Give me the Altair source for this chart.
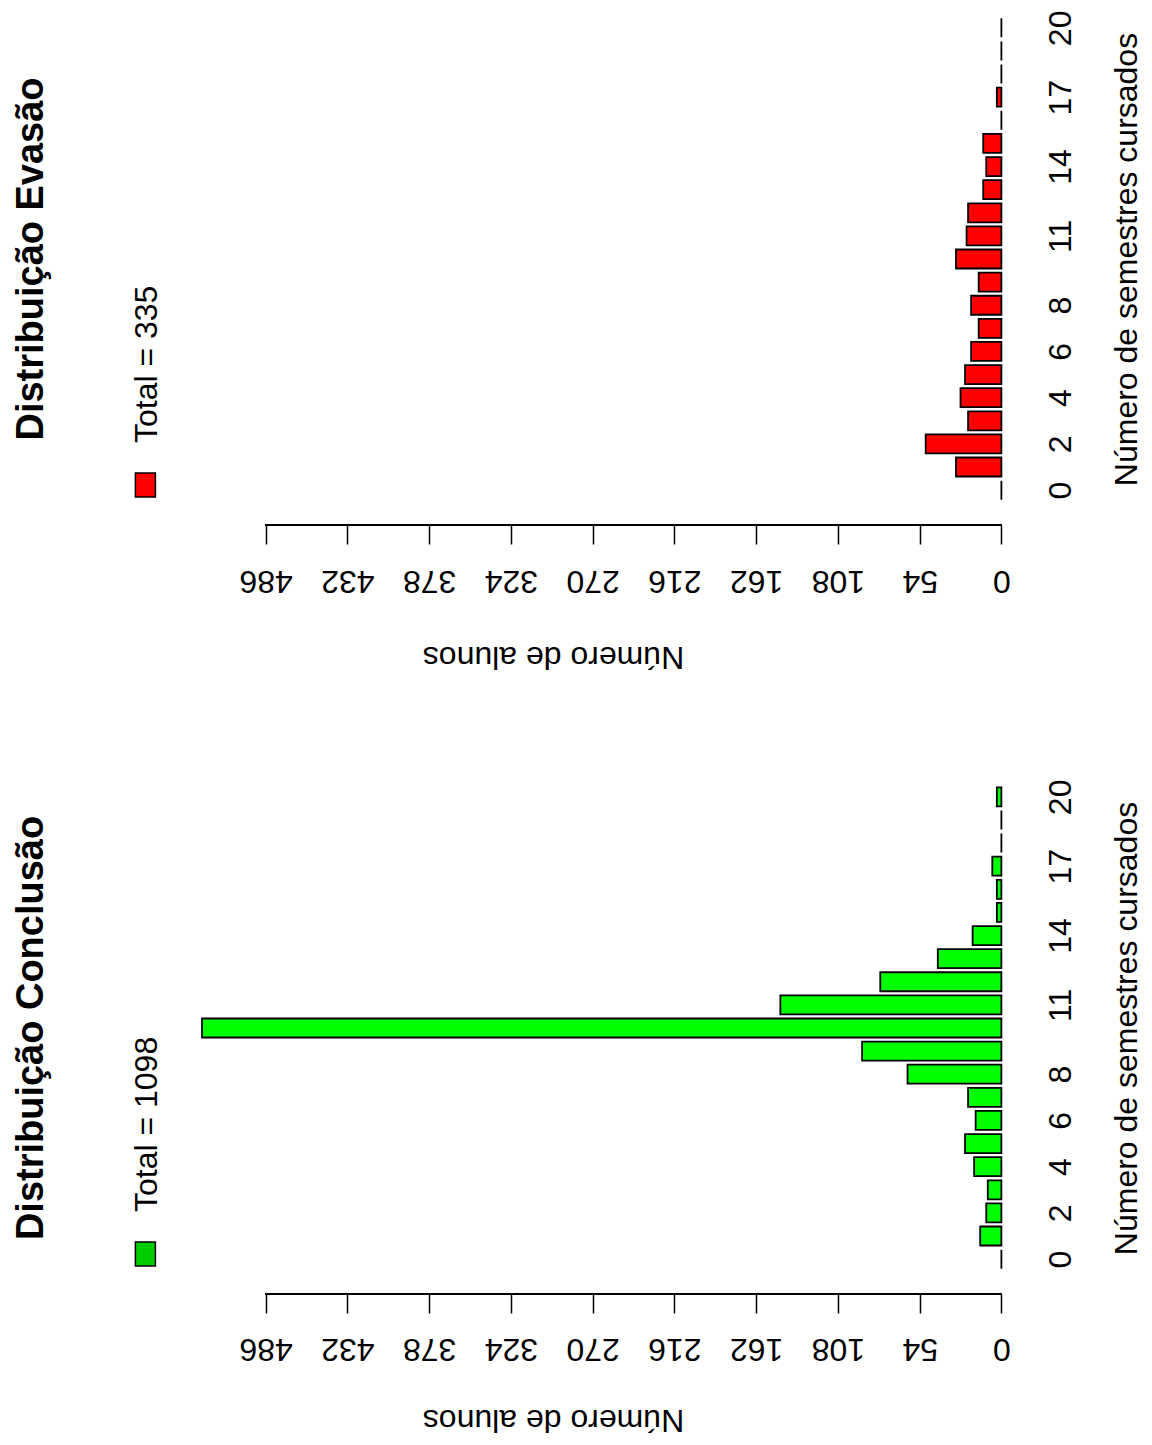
import altair as alt
import pandas as pd

# Data
semestres = list(range(21))
evasao = [0, 30, 50, 22, 27, 24, 20, 15, 20, 15, 30, 23, 22, 12, 10, 12, 0, 3, 0, 0, 0]
conclusao = [0, 14, 10, 9, 18, 24, 17, 22, 62, 92, 528, 146, 80, 42, 19, 3, 3, 6, 0, 0, 3]
tick_semestres = [0, 2, 4, 6, 8, 11, 14, 17, 20]
tick_alunos = [0, 54, 108, 162, 216, 270, 324, 378, 432, 486]
titulos = ["Distribuição Evasão", "Distribuição Conclusão"]

FONT = "Liberation Sans"
W = 908.4
H = 500
XMAX = 600


def panel(values, title, bar_color, legend_color, x_title_y):
    df = pd.DataFrame({"sem": semestres, "n": values})
    x = alt.X(
        "n:Q",
        scale=alt.Scale(domain=[0, XMAX], reverse=True, nice=False, zero=True),
        axis=alt.Axis(
            values=tick_alunos, title="Número de alunos", domain=False, grid=False,
            offset=16, tickSize=19, tickWidth=1.5, tickColor="black",
            labelAngle=180, labelAlign="center", labelBaseline="bottom", labelPadding=19,
            labelFont=FONT, labelFontSize=32, labelColor="black",
            labelOverlap=False, labelFlush=False,
            titleAngle=180, titleAlign="center", titleBaseline="alphabetic",
            titleX=460, titleY=x_title_y, titleFont=FONT, titleFontSize=32,
            titleFontWeight="normal", titleColor="black",
        ),
    )
    y = alt.Y(
        "sem:Q",
        scale=alt.Scale(domain=[-0.6, 20.6], nice=False, zero=False),
        axis=alt.Axis(
            orient="right", values=tick_semestres, title="Número de semestres cursados",
            domain=False, ticks=False, grid=False,
            labelAngle=270, labelAlign="center", labelBaseline="top", labelPadding=44,
            labelFont=FONT, labelFontSize=32, labelColor="black",
            labelOverlap=False, labelFlush=False,
            titleAngle=270, titleAlign="center", titleBaseline="alphabetic",
            titleX=135, titleY=H / 2, titleFont=FONT, titleFontSize=32,
            titleFontWeight="normal", titleColor="black",
        ),
    )
    bars = alt.Chart(df).mark_bar(
        orient="horizontal", size=19, color=bar_color, stroke="black", strokeWidth=1.8
    ).encode(x=x, y=y)

    axis_line = alt.Chart(df).mark_rule(color="black", strokeWidth=1.5).encode(
        x=alt.datum(0), x2=alt.datum(486), y=alt.value(516)
    )

    leg = pd.DataFrame({"t": [f"Total = {sum(values)}"]})
    rect = alt.Chart(leg).mark_rect(fill=legend_color, stroke="black", strokeWidth=1.5).encode(
        x=alt.value(42.4), x2=alt.value(62.4), y=alt.value(464), y2=alt.value(488)
    )
    text = alt.Chart(leg).mark_text(
        angle=270, align="left", baseline="alphabetic", font=FONT, fontSize=32, color="black"
    ).encode(x=alt.value(64.4), y=alt.value(434), text="t:N")

    return alt.layer(bars, axis_line, rect, text).properties(
        width=W, height=H,
        title=alt.TitleParams(
            text=title, orient="left", angle=270, anchor="middle", font=FONT,
            fontSize=38, fontWeight="bold", color="black", offset=42,
        ),
    )


top = panel(evasao, titulos[0], "#FF0000", "#FF0000", 121)
bottom = panel(conclusao, titulos[1], "#00FF00", "#00CD00", 116)

chart = alt.vconcat(top, bottom, spacing=269, bounds="flush").configure_view(
    stroke=None
).properties(padding={"left": 4, "top": 1, "right": 0, "bottom": 2}, background="white")

chart.save("out.html", embed_options={"renderer": "svg", "actions": False})
